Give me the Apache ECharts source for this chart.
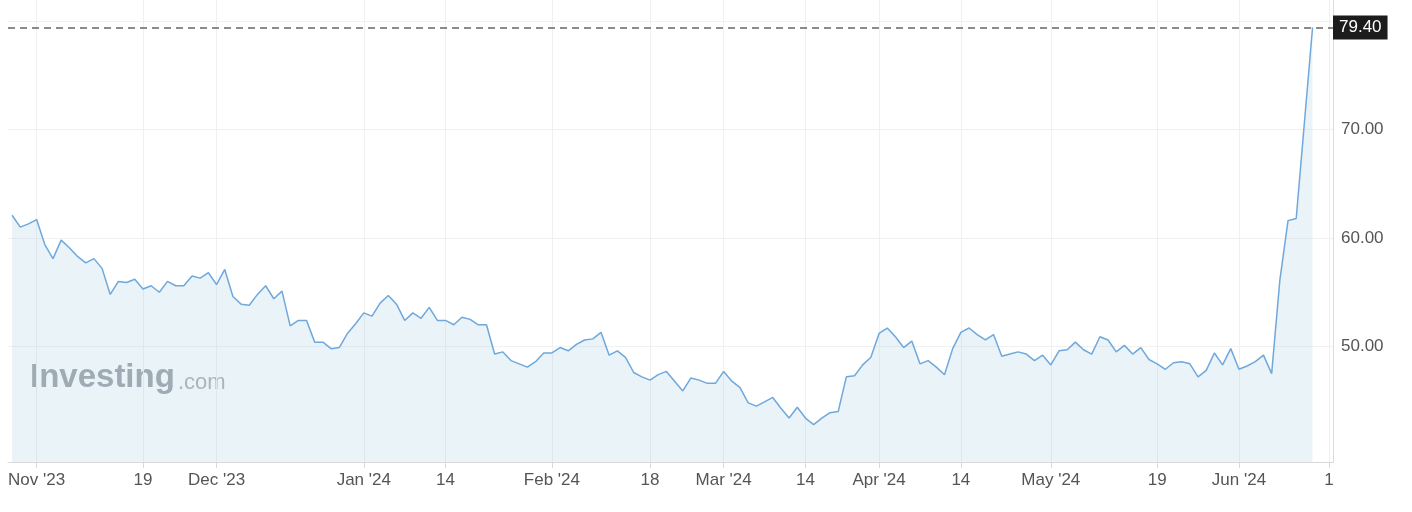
<!DOCTYPE html>
<html>
<head>
<meta charset="utf-8">
<script src="https://cdn.jsdelivr.net/npm/echarts@6/dist/echarts.min.js"></script>
<style>
html,body{margin:0;padding:0;background:#fff;}
#chart{width:1412px;height:512px;}
</style>
</head>
<body>
<div id="chart"></div>
<script>
// Daily closing values (trading days)
const values = [
  62.1, 61.0, 61.3, 61.7, 59.4, 58.1, 59.8, 59.1, 58.3, 57.7,
  58.1, 57.2, 54.8, 56.0, 55.9, 56.2, 55.3, 55.6, 55.0, 56.0,
  55.6, 55.6, 56.5, 56.3, 56.8, 55.7, 57.1, 54.6, 53.9, 53.8,
  54.8, 55.6, 54.4, 55.1, 51.9, 52.4, 52.4, 50.4, 50.4, 49.8,
  49.9, 51.2, 52.1, 53.1, 52.8, 54.0, 54.7, 53.9, 52.4, 53.1,
  52.6, 53.6, 52.4, 52.4, 52.0, 52.7, 52.5, 52.0, 52.0, 49.3,
  49.5, 48.7, 48.4, 48.1, 48.6, 49.4, 49.4, 49.9, 49.6, 50.2,
  50.6, 50.7, 51.3, 49.2, 49.6, 49.0, 47.6, 47.2, 46.9, 47.4,
  47.7, 46.8, 45.9, 47.1, 46.9, 46.6, 46.6, 47.7, 46.8, 46.2,
  44.8, 44.5, 44.9, 45.3, 44.3, 43.4, 44.4, 43.4, 42.8, 43.4,
  43.9, 44.0, 47.2, 47.3, 48.3, 49.0, 51.2, 51.7, 50.9, 49.9,
  50.5, 48.4, 48.7, 48.1, 47.4, 49.8, 51.3, 51.7, 51.1, 50.6,
  51.1, 49.1, 49.3, 49.5, 49.3, 48.7, 49.2, 48.3, 49.6, 49.7,
  50.4, 49.7, 49.3, 50.9, 50.6, 49.5, 50.1, 49.3, 49.9, 48.8,
  48.4, 47.9, 48.5, 48.6, 48.4, 47.2, 47.8, 49.4, 48.3, 49.8,
  47.9, 48.2, 48.6, 49.2, 47.5, 56.1, 61.6, 61.8, 70.6, 79.4
];
// Number of trading-day slots on the axis (data + a few empty slots at the end)
const slotCount = 162;
const categories = Array.from({length: slotCount}, (_, i) => String(i));
// Tick labels and the slot they sit on
const tickIndex = [3, 16, 25, 43, 53, 66, 78, 87, 97, 106, 116, 127, 140, 150, 161];
const tickText  = ["Nov '23", "19", "Dec '23", "Jan '24", "14", "Feb '24", "18", "Mar '24", "14", "Apr '24", "14", "May '24", "19", "Jun '24", "1"];
const yLabelValues = [50, 60, 70];
const yGridValues = [50, 60, 70, 80];

const tickMap = {};
tickIndex.forEach((idx, k) => { tickMap[idx] = tickText[k]; });
const isTick = (i) => Object.prototype.hasOwnProperty.call(tickMap, i);
const lastValue = values[values.length - 1];

const chart = echarts.init(document.getElementById('chart'), null, {renderer: 'canvas'});
const FONT = 'Liberation Sans, Arial, sans-serif';

chart.setOption({
  animation: false,
  backgroundColor: '#ffffff',
  grid: {left: 8, right: 79, top: 0, bottom: 50, containLabel: false},
  xAxis: {
    type: 'category',
    data: categories,
    boundaryGap: true,
    axisLine: {show: true, lineStyle: {color: '#d9d9d9', width: 1}},
    axisTick: {show: true, alignWithLabel: true, length: 6, interval: (i) => isTick(i), lineStyle: {color: '#d9d9d9'}},
    axisLabel: {
      interval: (i) => isTick(i),
      formatter: (v, i) => tickMap[i] || '',
      color: '#555555', fontSize: 17, fontFamily: FONT, margin: 10
    },
    splitLine: {show: true, alignWithLabel: true, interval: (i) => isTick(i), lineStyle: {color: '#f0f0f0', width: 1}}
  },
  yAxis: {
    type: 'value',
    position: 'right',
    min: 39.35,
    max: 81.94,
    axisLine: {show: true, lineStyle: {color: '#dcdcdc', width: 1}},
    axisTick: {show: false},
    axisLabel: {
      color: '#555555', fontSize: 17, fontFamily: FONT, margin: 8,
      showMinLabel: false, showMaxLabel: false,
      formatter: (v) => yLabelValues.indexOf(Math.round(v * 100) / 100) >= 0 ? v.toFixed(2) : ''
    },
    splitLine: {show: false}
  },
  graphic: [
    {type: 'text', left: 30, top: 361, silent: true, z: 0,
     style: {text: 'Investing', font: 'bold 33px ' + FONT, fill: '#a0a4a9'}},
    {type: 'text', left: 178, top: 372, silent: true, z: 0,
     style: {text: '.com', font: '22px ' + FONT, fill: '#adb1b6'}}
  ],
  series: [
    {
      // horizontal grid lines, drawn beneath the price series
      type: 'line',
      data: [],
      z: 0,
      silent: true,
      markLine: {
        z: 0,
        silent: true,
        symbol: 'none',
        animation: false,
        label: {show: false},
        lineStyle: {color: '#f1f1f1', type: 'solid', width: 1},
        data: yGridValues.map(v => ({yAxis: v}))
      }
    },
    {
      type: 'line',
      data: values,
      symbol: 'none',
      smooth: false,
      lineStyle: {color: '#6ea8dc', width: 1.5},
      areaStyle: {color: 'rgba(155,196,222,0.3)'},
      z: 2,
      markLine: {
        silent: true,
        symbol: 'none',
        animation: false,
        data: [{yAxis: lastValue}],
        lineStyle: {color: '#666666', type: [7, 5], width: 1.5},
        label: {
          show: true, position: 'end', distance: 0,
          formatter: () => lastValue.toFixed(2),
          backgroundColor: '#1c1c1c', color: '#ffffff',
          fontSize: 17, fontFamily: FONT, padding: [4, 6, 3, 6]
        }
      }
    }
  ]
});
</script>
</body>
</html>
